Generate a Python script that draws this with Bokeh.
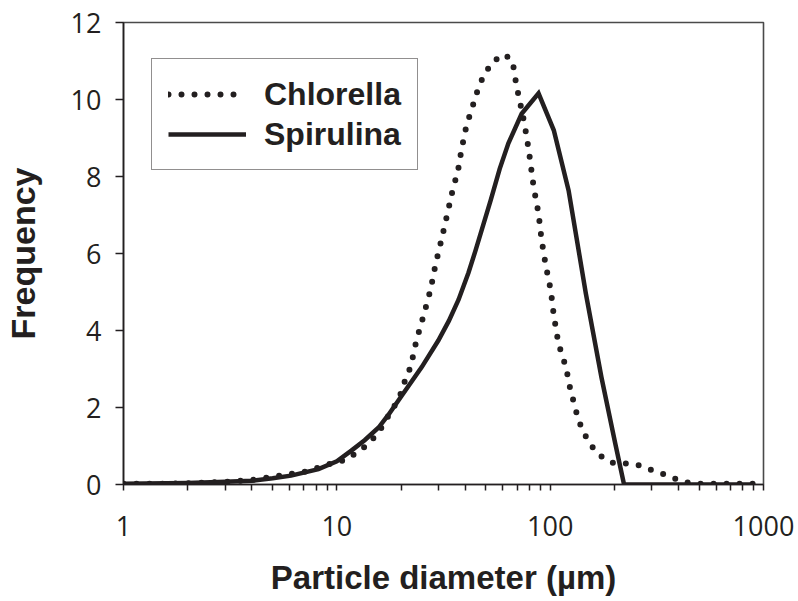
from bokeh.plotting import figure
from bokeh.models import Range1d, FixedTicker, NumeralTickFormatter, Legend
from bokeh.embed import file_html
from bokeh.resources import INLINE

# ---- data ----
chlorella_x = [1, 1.5, 2, 3, 4, 5, 6, 7, 8, 9, 10, 11, 12.5, 14.2, 16, 17.3, 18.8, 20.1, 21,
               22.2, 23.6, 25.5, 27.5, 29, 31, 33, 35.3, 36.8, 38.4, 40.6, 42.4, 44.3, 46.3,
               49.4, 54.3, 61.2, 66.6, 69.6, 71.8, 75.9, 79.3, 83.7, 88.2, 91.1, 95.2, 100.7,
               104, 109, 113, 118.5, 125, 130, 134.5, 142, 153, 168, 194, 222, 254, 294, 344,
               394, 440, 500, 600, 700, 800, 890]
chlorella_y = [0.02, 0.02, 0.03, 0.07, 0.12, 0.2, 0.27, 0.32, 0.42, 0.52, 0.58, 0.64, 0.84, 1.07,
               1.43, 1.75, 2.08, 2.4, 2.75, 3.06, 3.74, 4.39, 5.06, 5.71, 6.38, 7.04, 7.77, 8.08,
               8.7, 9.35, 9.66, 10.0, 10.34, 10.68, 11.0, 11.17, 11.0, 10.34, 10.0, 9.35, 8.7,
               7.72, 7.04, 6.36, 5.71, 5.04, 4.39, 3.71, 3.4, 3.06, 2.4, 2.08, 1.74, 1.4, 1.07,
               0.78, 0.57, 0.55, 0.52, 0.39, 0.26, 0.13, 0.05, 0.02, 0.02, 0.02, 0.02, 0.02]

spirulina_x = [1, 2, 3, 4, 5, 6.1, 8.2, 10, 11.7, 13.5, 15.7, 17.5, 20.1, 25, 29.9, 33.5, 37.2,
               41.4, 44.7, 52.6, 58, 63.7, 73.5, 88.2, 104, 122, 147, 174, 202, 222, 300, 500, 890]
spirulina_y = [0.02, 0.04, 0.07, 0.1, 0.16, 0.23, 0.4, 0.6, 0.88, 1.15, 1.48, 1.82, 2.3, 3.05,
               3.74, 4.25, 4.8, 5.5, 6.08, 7.38, 8.2, 8.86, 9.63, 10.16, 9.2, 7.64, 4.96, 2.78,
               1.06, 0.0, 0.0, 0.0, 0.0]

x_major_ticks = [1, 10, 100, 1000]
x_minor_ticks = [2, 3, 4, 5, 6, 7, 8, 9, 20, 30, 40, 50, 60, 70, 80, 90,
                 200, 300, 400, 500, 600, 700, 800, 900]
y_ticks = [0, 2, 4, 6, 8, 10, 12]

INK = "#231f20"

p = figure(frame_width=640, frame_height=462,
           x_axis_type="log", x_range=Range1d(1, 1000), y_range=Range1d(0, 12),
           output_backend="svg", toolbar_location=None,
           min_border_left=117, min_border_right=33, min_border_top=22, min_border_bottom=115)

p.background_fill_color = "white"
p.border_fill_color = "white"
p.outline_line_color = "#4a4a4a"
p.outline_line_width = 1.6
p.xgrid.visible = False
p.ygrid.visible = False

r1 = p.line(chlorella_x, chlorella_y, line_color=INK, line_width=6,
            line_dash="0 13", line_cap="round")
r2 = p.line(spirulina_x, spirulina_y, line_color=INK, line_width=4.5, line_join="miter")

# x axis
xa = p.xaxis[0]
xa.ticker = FixedTicker(ticks=x_major_ticks, minor_ticks=x_minor_ticks)
xa.formatter = NumeralTickFormatter(format="0")
xa.axis_label = "Particle diameter (µm)"
xa.axis_label_text_font = "Liberation Sans"
xa.axis_label_text_font_style = "bold"
xa.axis_label_text_font_size = "33px"
xa.axis_label_text_color = INK
xa.axis_label_standoff = 20
xa.major_label_text_font = "Open Sans"
xa.major_label_text_font_size = "27px"
xa.major_label_text_color = INK
xa.major_label_standoff = 25
xa.axis_line_color = INK
xa.axis_line_width = 1.6
xa.major_tick_line_color = INK
xa.minor_tick_line_color = INK
xa.major_tick_line_width = 1.5
xa.minor_tick_line_width = 1.5
xa.major_tick_out = 6
xa.major_tick_in = 0
xa.minor_tick_out = 6
xa.minor_tick_in = 0

# y axis
ya = p.yaxis[0]
ya.ticker = FixedTicker(ticks=y_ticks, minor_ticks=[])
ya.axis_label = "Frequency"
ya.axis_label_text_font = "Liberation Sans"
ya.axis_label_text_font_style = "bold"
ya.axis_label_text_font_size = "34px"
ya.axis_label_text_color = INK
ya.axis_label_standoff = 26
ya.major_label_text_font = "Open Sans"
ya.major_label_text_font_size = "27px"
ya.major_label_text_color = INK
ya.major_label_standoff = 14
ya.axis_line_color = INK
ya.axis_line_width = 1.6
ya.major_tick_line_color = INK
ya.major_tick_line_width = 1.5
ya.major_tick_out = 8
ya.major_tick_in = 0
ya.minor_tick_line_color = None

legend = Legend(items=[("Chlorella", [r1]), ("Spirulina", [r2])],
                location=(28, 314), orientation="vertical")
legend.label_text_font = "Liberation Sans"
legend.label_text_font_style = "bold"
legend.label_text_font_size = "32px"
legend.label_text_color = INK
legend.label_standoff = 18
legend.glyph_width = 78
legend.glyph_height = 38
legend.label_height = 38
legend.spacing = 2
legend.padding = 16
legend.margin = 0
legend.border_line_color = INK
legend.border_line_width = 1.6
legend.background_fill_color = "white"
legend.background_fill_alpha = 1.0
p.add_layout(legend)

open("out.html", "w").write(file_html(p, INLINE))
